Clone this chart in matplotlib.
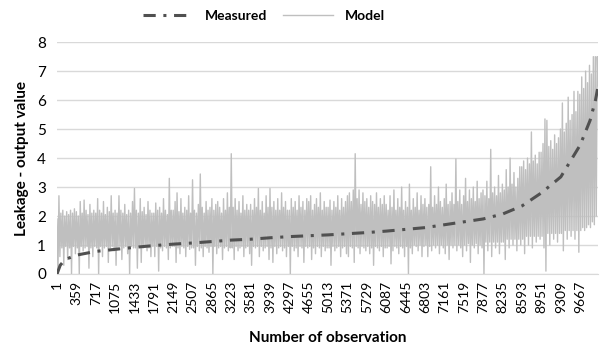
import numpy as np
import matplotlib
matplotlib.use('Agg')
import matplotlib.pyplot as plt

plt.rcParams['font.family'] = ['Lato', 'DejaVu Sans']

# measured leakage (sorted), read at these observation numbers
meas_obs = [1, 60, 150, 359, 717, 1075, 1433, 1791, 2149, 2507, 2865, 3223, 3581,
            3939, 4297, 4655, 5013, 5371, 5729, 6087, 6445, 6803, 7161, 7519,
            7877, 8235, 8593, 8951, 9309, 9667, 9850, 9950, 10000]
meas_val = [0.0, 0.3, 0.5, 0.65, 0.78, 0.85, 0.92, 0.98, 1.03, 1.07, 1.12, 1.17, 1.2,
            1.25, 1.29, 1.32, 1.35, 1.39, 1.43, 1.48, 1.54, 1.6, 1.7, 1.8,
            1.9, 2.07, 2.35, 2.8, 3.35, 4.45, 5.3, 6.0, 6.5]

# model output (20 values per tick interval)
model_val = [
    1.9, 0.0, 2.7, 0.6, 2.1, 0.9, 2.2, 0.3, 2.0, 0.95, 2.15, 0.5, 2.05, 0.9, 2.2, 0.0, 2.1, 0.95, 2.25, 0.7,
    2.15, 0.9, 2.0, 0.0, 2.5, 0.95, 2.1, 0.8, 2.55, 0.9, 2.2, 0.95, 2.05, 0.2, 2.4, 0.9, 2.1, 0.6, 2.2, 0.95,
    2.1, 0.9, 2.6, 0.0, 2.2, 0.95, 2.1, 0.6, 2.5, 0.9, 2.05, 0.95, 2.3, 0.4, 2.15, 0.9, 2.7, 0.95, 2.1, 0.8,
    2.2, 0.3, 2.1, 0.9, 2.7, 0.95, 2.2, 0.5, 2.1, 0.9, 2.4, 0.95, 2.05, 0.7, 2.2, 0.0, 2.1, 0.95, 2.5, 0.9,
    2.95, 0.9, 2.2, 0.2, 2.1, 0.95, 2.6, 0.4, 2.15, 0.9, 2.3, 0.95, 2.05, 0.8, 2.5, 0.9, 2.2, 0.6, 2.1, 0.95,
    2.1, 0.6, 2.45, 0.95, 2.2, 0.1, 2.3, 0.9, 2.1, 0.8, 2.6, 0.95, 2.2, 0.9, 2.05, 0.5, 3.3, 0.9, 2.2, 0.95,
    2.2, 0.95, 2.5, 0.4, 2.8, 0.9, 2.15, 0.7, 2.6, 0.95, 2.1, 0.9, 2.3, 0.6, 2.2, 0.95, 2.7, 0.85, 2.1, 0.9,
    3.25, 0.9, 2.2, 0.3, 2.1, 0.95, 2.4, 0.8, 3.45, 0.9, 2.3, 0.6, 2.1, 0.95, 2.5, 0.9, 2.2, 0.75, 2.3, 0.95,
    2.6, 0.0, 2.2, 0.95, 2.4, 0.7, 2.5, 0.9, 2.3, 0.95, 2.1, 0.5, 2.6, 0.9, 2.2, 0.95, 2.8, 0.8, 2.3, 0.9,
    4.15, 0.9, 2.3, 0.5, 2.6, 0.95, 2.2, 0.8, 2.5, 0.9, 2.1, 0.95, 2.7, 0.6, 2.2, 0.9, 2.4, 0.95, 2.2, 0.7,
    2.4, 0.3, 2.2, 0.95, 2.6, 0.9, 2.3, 0.95, 2.95, 0.6, 2.2, 0.95, 2.5, 0.8, 2.1, 0.9, 2.7, 0.95, 2.3, 0.5,
    2.95, 0.9, 2.3, 0.4, 2.5, 0.95, 2.2, 0.7, 2.6, 0.9, 2.2, 0.95, 2.8, 0.8, 2.3, 0.9, 2.5, 0.6, 2.2, 0.95,
    2.2, 0.0, 2.6, 0.95, 2.3, 0.8, 2.5, 0.9, 2.2, 0.6, 2.7, 0.95, 2.3, 0.9, 2.5, 0.4, 2.2, 0.95, 2.6, 0.9,
    2.5, 0.95, 2.7, 0.5, 2.2, 0.9, 2.4, 0.7, 2.6, 0.95, 2.3, 0.9, 2.8, 0.6, 2.2, 0.95, 2.5, 0.8, 2.3, 0.9,
    2.3, 0.9, 2.55, 0.3, 2.2, 0.95, 2.5, 0.8, 2.3, 0.9, 2.7, 0.95, 2.2, 0.6, 2.6, 0.9, 2.3, 0.95, 2.5, 0.7,
    2.7, 0.6, 2.8, 0.95, 2.5, 0.9, 2.9, 0.4, 4.15, 0.95, 2.6, 0.9, 2.9, 0.7, 2.4, 0.95, 2.8, 0.9, 2.5, 0.8,
    2.6, 0.95, 2.3, 0.7, 2.7, 0.9, 2.5, 0.3, 2.4, 0.95, 2.8, 0.9, 2.3, 0.8, 2.6, 0.95, 2.4, 0.6, 2.7, 0.9,
    2.4, 0.9, 2.2, 0.95, 2.7, 0.35, 2.3, 0.8, 2.9, 0.95, 2.2, 0.9, 2.6, 0.7, 2.3, 0.95, 3.0, 0.9, 2.2, 0.6,
    2.5, 0.95, 2.3, 0.0, 3.1, 0.9, 2.2, 0.7, 2.6, 1.0, 2.3, 0.95, 2.8, 0.8, 2.2, 1.0, 2.7, 0.6, 2.4, 0.95,
    2.6, 1.0, 2.3, 0.6, 2.4, 0.95, 3.7, 0.8, 2.3, 1.0, 2.7, 0.9, 2.4, 1.0, 3.0, 0.7, 2.5, 1.0, 2.3, 0.9,
    2.6, 0.7, 3.1, 1.0, 2.4, 0.5, 2.5, 1.0, 2.8, 0.9, 2.4, 1.0, 3.97, 0.8, 2.5, 1.0, 2.9, 0.9, 2.4, 0.6,
    2.7, 1.0, 3.3, 0.8, 2.5, 1.05, 2.9, 0.4, 2.6, 1.0, 3.0, 0.9, 2.5, 1.05, 3.2, 0.7, 2.6, 1.0, 2.8, 0.9,
    2.9, 0.0, 2.7, 1.1, 3.2, 0.8, 2.6, 1.1, 4.3, 0.6, 2.8, 1.1, 3.0, 0.9, 2.7, 1.1, 3.4, 0.7, 2.8, 1.1,
    3.1, 1.1, 2.9, 0.5, 3.6, 1.2, 3.0, 0.9, 4.0, 1.2, 3.1, 1.0, 3.5, 1.2, 3.0, 0.8, 3.3, 1.2, 3.7, 1.0,
    3.7, 1.2, 3.9, 0.7, 3.6, 1.3, 4.0, 1.0, 3.8, 1.3, 4.9, 0.9, 3.9, 1.3, 4.1, 1.1, 3.8, 1.3, 4.2, 1.2,
    4.2, 1.3, 4.5, 0.9, 5.35, 0.1, 5.3, 1.4, 4.4, 1.0, 4.6, 1.4, 4.3, 1.2, 4.8, 1.4, 4.5, 1.1, 4.7, 1.4,
    5.0, 1.4, 5.9, 0.8, 4.9, 1.5, 5.2, 1.2, 6.1, 1.5, 5.3, 1.3, 5.5, 1.5, 6.3, 1.2, 5.6, 1.5, 6.3, 0.75,
    6.2, 1.5, 6.8, 1.6, 6.4, 1.5, 7.0, 1.6, 6.6, 1.7, 7.2, 1.6, 6.9, 1.8, 7.5, 1.7, 7.5, 2.0, 7.5, 6.5,
]
n_obs = 10000
xticks = list(range(1, 9668, 358))

fig = plt.figure(figsize=(6, 3.54), dpi=100)
ax = fig.add_axes([0.095, 0.226, 0.902, 0.655])

model_obs = np.linspace(1, n_obs, len(model_val))
ax.plot(model_obs, model_val, color='#bfbfbf', lw=1.0, label='Model', zorder=2)
ax.plot(meas_obs, meas_val, color='#505050', lw=2.2,
        linestyle=(0, (4, 2.5, 1, 2.5)), label='Measured', zorder=3)

ax.set_xlim(1, n_obs)
ax.set_ylim(0, 8)
ax.set_yticks(range(0, 9))
ax.set_xticks(xticks)
ax.set_xticklabels([str(t) for t in xticks], rotation=90, fontsize=10)
ax.tick_params(axis='y', labelsize=11, length=0, pad=8)
ax.tick_params(axis='x', length=0, pad=5)
ax.grid(axis='y', color='#d9d9d9', lw=1)
ax.set_axisbelow(True)
for s in ['top', 'right', 'left']:
    ax.spines[s].set_visible(False)
ax.spines['bottom'].set_color('#d9d9d9')

ax.set_ylabel('Leakage - output value', fontsize=11, fontweight='bold', labelpad=6)
ax.set_xlabel('Number of observation', fontsize=11, fontweight='bold', labelpad=13)

h, l = ax.get_legend_handles_labels()
fig.legend(h[::-1], l[::-1], loc='center', bbox_to_anchor=(0.44, 0.955), ncol=2,
           frameon=False, prop={'weight': 'bold', 'size': 10},
           handlelength=3.6, handletextpad=0.8, columnspacing=1.2)

fig.savefig('out.png', dpi=100)
